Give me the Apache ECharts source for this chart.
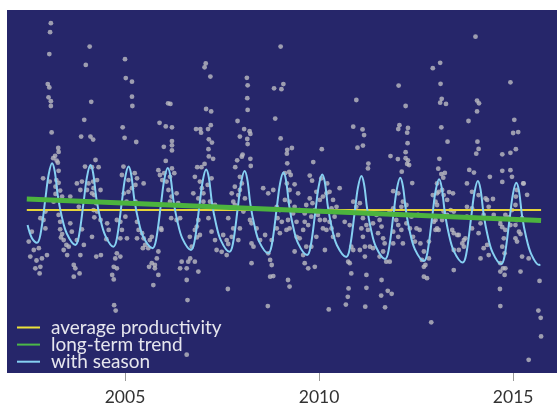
<!DOCTYPE html>
<html><head><meta charset="utf-8">
<script src="https://cdn.jsdelivr.net/npm/echarts@6/dist/echarts.min.js"></script>
<style>html,body{margin:0;padding:0;background:#fff}#c{width:557px;height:403px}</style>
</head><body><div id="c"></div>
<script>
// tick labels
const tickYears = [2005, 2010, 2015];
// average productivity (horizontal)
const avgLine = [[2002.47, 54.3], [2015.72, 54.3]];
// long-term trend
const trendLine = [[2002.47, 58.0], [2015.72, 50.8]];
// with season (troughs, rise, peak, fall)
const seasonLine = [
[2002.49,49.3],[2002.60,45.0],
[2002.73,43.4],[2002.82,46.05],[2002.95,58.2],[2003.03,65.9],[2003.12,69.9],[2003.19,67.2],[2003.27,59.0],[2003.37,52.2],[2003.50,46.5],
[2003.72,42.7],[2003.81,45.4],[2003.94,57.6],[2004.02,65.3],[2004.11,69.3],[2004.18,66.6],[2004.26,58.4],[2004.36,51.6],[2004.49,45.9],
[2004.70,42.1],[2004.79,44.8],[2004.92,57.1],[2005.00,64.8],[2005.09,68.8],[2005.16,66.1],[2005.24,57.9],[2005.34,51.1],[2005.47,45.4],
[2005.71,41.6],[2005.80,44.3],[2005.93,56.6],[2006.01,64.3],[2006.10,68.3],[2006.17,65.6],[2006.25,57.4],[2006.35,50.6],[2006.48,44.8],
[2006.70,41.0],[2006.79,43.7],[2006.92,56.0],[2007.00,63.8],[2007.09,67.8],[2007.16,65.1],[2007.24,56.8],[2007.34,50.0],[2007.47,44.2],
[2007.69,40.4],[2007.78,43.1],[2007.91,55.5],[2007.99,63.3],[2008.08,67.3],[2008.15,64.6],[2008.23,56.3],[2008.33,49.5],[2008.46,43.7],
[2008.69,39.9],[2008.78,42.6],[2008.91,55.0],[2008.99,62.8],[2009.08,66.8],[2009.15,64.1],[2009.23,55.8],[2009.33,48.9],[2009.46,43.2],
[2009.69,39.3],[2009.78,42.0],[2009.91,54.4],[2009.99,62.2],[2010.08,66.2],[2010.15,63.5],[2010.23,55.2],[2010.33,48.3],[2010.46,42.6],
[2010.70,38.7],[2010.79,41.4],[2010.92,53.8],[2011.00,61.7],[2011.09,65.7],[2011.16,62.9],[2011.24,54.6],[2011.34,47.7],[2011.47,41.9],
[2011.70,38.0],[2011.79,40.7],[2011.92,53.2],[2012.00,61.0],[2012.09,65.1],[2012.16,62.3],[2012.24,54.0],[2012.34,47.0],[2012.47,41.2],
[2012.70,37.3],[2012.79,40.0],[2012.92,52.6],[2013.00,60.5],[2013.09,64.6],[2013.16,61.8],[2013.24,53.5],[2013.34,46.5],[2013.47,40.7],
[2013.70,36.8],[2013.79,39.5],[2013.92,52.0],[2014.00,59.9],[2014.09,64.0],[2014.16,61.2],[2014.24,52.9],[2014.34,46.0],[2014.47,40.2],
[2014.69,36.3],[2014.78,39.0],[2014.91,51.5],[2014.99,59.3],[2015.08,63.4],[2015.15,60.7],[2015.23,52.4],[2015.33,45.6],[2015.46,39.8],
[2015.67,36.0],[2015.70,36.2]
];
// observations [year, productivity]
const observations = [
[2003.09,116.6],[2003.07,113.6],[2003.05,106.3],[2003.01,96.3],[2003.05,95.2],[2003.03,91.9],[2003.09,90.6],[2003.09,89.0],[2003.11,80.2],[2003.28,75.0],[2003.29,73.7],[2003.20,72.4],[2003.15,71.6],[2003.24,70.8],[2003.27,70.1],
[2004.09,108.8],[2003.99,102.7],[2004.13,90.4],[2003.95,84.4],[2003.87,78.8],[2004.11,78.8],[2004.18,77.8],[2004.24,71.0],[2003.97,68.8],[2004.15,68.6],[2004.32,68.6],
[2005.00,104.6],[2005.02,98.3],[2005.18,97.1],[2005.18,92.1],[2005.19,89.0],[2004.94,81.9],[2004.99,78.4],[2005.29,77.0],[2004.96,68.8],[2005.25,66.6],
[2006.11,89.9],[2006.17,89.7],[2005.89,83.4],[2006.05,82.2],[2006.21,81.9],[2006.21,77.3],[2006.21,75.9],[2006.00,75.4],[2006.21,74.2],[2006.05,70.7],[2005.86,67.6],[2006.21,68.2],
[2007.08,103.2],[2007.05,101.9],[2007.20,98.8],[2007.09,88.0],[2007.22,87.2],[2006.83,81.3],[2006.94,81.3],[2006.96,80.1],[2007.14,81.3],[2007.21,82.6],[2007.16,77.9],[2007.24,76.8],[2007.15,74.6],[2007.16,72.2],[2007.27,71.4],[2007.05,69.7],[2006.86,68.6],[2006.97,68.6],
[2008.14,98.4],[2008.16,95.9],[2008.15,91.6],[2008.16,87.7],[2007.90,84.0],[2008.07,81.3],[2008.21,80.6],[2008.23,79.7],[2007.96,78.8],[2008.15,78.0],[2008.16,76.3],[2008.03,72.8],[2008.01,72.1],[2008.23,71.4],[2007.89,70.9],[2008.24,69.0],[2007.84,68.6],
[2008.84,94.9],[2008.87,84.8],
[2009.01,108.8],[2009.08,96.3],[2009.03,94.6],[2009.01,78.2],[2009.18,74.4],[2009.30,75.0],[2009.17,73.1],[2009.18,69.9],[2009.23,67.0],[2009.27,66.0],[2009.37,62.9],[2009.46,59.9],
[2010.07,74.6],[2009.85,70.3],[2009.76,65.8],[2009.82,64.1],[2010.21,63.2],[2010.53,61.6],
[2010.96,91.0],[2010.88,82.1],[2011.12,81.2],[2011.16,79.3],[2011.13,75.8],[2010.99,75.1],[2011.27,69.8],[2011.26,68.2],
[2012.05,95.8],[2012.23,89.0],[2012.07,82.6],[2012.04,81.3],[2012.29,81.7],[2012.27,80.1],[2012.28,76.6],[2012.23,73.6],[2011.84,72.3],[2012.03,71.3],[2012.23,71.6],[2012.29,70.9],[2012.27,69.7],[2012.32,69.3],[2012.13,67.1],[2012.40,63.3],[2011.91,60.6],
[2014.03,112.1],[2013.12,103.4],[2012.93,101.6],[2013.13,96.4],[2013.16,91.4],[2013.12,90.1],[2013.27,89.7],[2013.15,81.9],[2013.31,77.1],[2013.10,71.4],[2013.07,68.1],[2013.15,66.3],[2013.24,66.7],[2013.20,65.1],[2013.35,60.3],[2013.45,59.9],[2012.93,59.3],[2013.04,59.9],
[2014.07,90.8],[2014.12,89.9],[2014.07,87.2],[2013.85,84.0],[2014.08,77.1],[2014.11,74.7],[2014.05,73.1],[2013.87,67.7],[2013.99,66.8],[2014.40,65.4],[2014.48,58.0],
[2014.93,96.9],[2015.03,84.4],[2015.00,80.0],[2015.13,80.3],[2015.07,74.6],[2014.93,73.4],[2014.72,72.9],[2014.93,67.6],[2014.72,67.4],[2014.97,65.4],[2014.72,63.7],[2015.26,63.2],[2015.36,59.4],[2015.07,58.8],
[2003.29,67.4],[2002.89,64.9],[2003.06,63.8],[2003.23,64.3],[2003.29,63.4],[2003.21,62.1],[2003.33,60.8],[2003.21,59.7],[2003.38,58.8],[2003.16,57.1],[2003.59,58.8],[2002.95,53.8],[2002.82,51.6],[2002.90,51.0],[2002.95,48.2],[2002.60,47.1],[2002.52,43.8],[2002.65,41.0],[2002.78,41.6],[2002.56,38.8],[2002.72,37.5],[2002.86,38.2],[2002.99,39.3],[2002.69,34.9],[2002.82,35.4],[2002.80,33.2],
[2003.29,52.7],[2003.33,50.4],[2003.33,47.9],[2003.38,46.3],[2003.35,45.2],[2003.42,44.3],[2003.49,42.7],[2003.55,42.1],[2003.51,39.3],[2003.42,41.0],[2003.63,47.1],[2003.59,49.9],[2003.81,55.4],[2003.76,63.2],[2003.89,63.8],[2003.85,61.0],[2004.06,63.2],[2004.02,61.0],[2003.76,44.3],[2003.89,47.9],[2003.94,42.7],[2003.85,39.3],[2003.68,36.0],[2003.72,34.9],[2003.68,32.1],[2003.83,33.2],
[2004.18,63.8],[2004.28,64.3],[2004.19,61.6],[2004.15,59.9],[2004.21,59.3],[2004.37,61.0],[2004.26,56.6],[2004.19,54.3],[2004.28,53.8],[2004.37,51.0],[2004.21,51.9],[2004.15,45.4],[2004.26,38.8],[2004.38,39.3],
[2004.54,49.9],[2004.58,47.7],[2004.52,44.6],[2004.79,51.0],[2004.88,50.4],[2004.92,47.7],[2005.01,52.1],[2004.88,44.9],[2005.05,44.9],[2004.79,39.9],[2004.88,38.8],[2004.75,38.2],[2004.71,35.4],[2004.79,34.9],[2004.67,32.7],[2004.71,31.2],
[2004.92,66.0],[2005.09,64.3],[2005.31,64.9],[2005.27,62.7],[2005.18,61.6],[2005.09,60.4],[2004.97,59.9],[2005.04,57.1],[2005.27,57.1],[2005.48,63.2],[2005.31,50.4],[2005.35,47.7],[2005.44,46.6],[2005.31,44.9],[2005.48,44.9],[2005.52,42.7],[2005.46,41.6],
[2006.01,66.6],[2005.90,66.0],[2006.27,66.6],[2006.16,65.4],[2006.07,63.8],[2005.96,64.3],[2006.12,61.0],[2006.33,59.9],[2006.20,58.8],[2006.16,57.1],[2006.37,56.6],[2006.19,51.6],[2006.33,51.0],[2006.42,51.6],[2005.93,48.2],[2005.94,47.7],[2005.69,45.4],[2005.64,44.3],[2005.60,41.6],[2005.86,40.5],[2005.82,38.2],[2005.69,36.6],[2005.77,36.0],[2005.77,34.9],[2005.62,35.4],[2005.86,32.7],[2005.73,29.3],
[2006.46,37.1],[2006.42,34.9],[2006.59,34.9],[2006.63,37.1],[2006.68,38.2],[2006.80,37.1],[2006.89,33.8],[2006.59,31.0],
[2006.80,65.4],[2006.93,63.8],[2007.23,64.9],[2007.13,62.7],[2006.98,61.6],[2007.02,59.9],[2006.76,59.9],[2006.89,58.2],[2007.02,57.1],[2007.19,57.1],[2007.32,56.0],[2007.15,51.6],[2006.89,51.0],[2006.85,48.8],[2006.80,47.7],[2006.93,46.0],[2006.67,45.4],[2006.85,45.2],[2006.72,42.1],[2007.23,47.1],[2007.32,44.3],[2007.36,41.0],[2007.49,40.4],[2007.62,39.3],
[2007.96,65.4],[2008.01,63.2],[2007.83,62.1],[2007.96,61.0],[2007.75,59.9],[2007.92,59.3],[2007.79,57.1],[2007.83,56.0],[2008.09,58.2],[2007.66,51.6],[2007.79,48.2],[2007.53,46.0],[2007.75,45.4],[2007.62,44.3],[2007.66,43.0],[2007.92,44.3],[2007.96,48.2],[2008.05,53.8],[2008.22,51.0],[2008.26,49.9],[2008.39,48.2],[2008.26,43.2],[2008.31,42.1],[2008.48,44.3],[2008.26,36.6],[2007.65,28.0],
[2008.56,61.6],[2008.69,59.9],[2008.82,61.0],[2008.91,55.4],[2008.99,54.3],[2008.93,51.6],[2009.04,50.4],[2008.99,46.6],[2008.91,48.2],[2008.78,44.3],[2008.61,46.0],[2008.69,39.9],[2008.74,37.7],[2008.78,36.0],[2008.74,32.1],[2008.82,32.3],
[2009.12,66.6],[2009.17,63.2],[2009.24,61.0],[2009.12,57.7],[2009.24,57.1],[2009.37,55.4],[2009.50,54.3],[2009.33,53.2],[2009.20,51.0],[2009.42,50.4],[2009.24,48.2],[2009.16,47.7],[2009.42,45.4],[2009.50,44.9],[2009.63,50.4],[2009.59,47.7],[2009.72,49.3],[2009.63,53.2],[2009.80,52.1],[2009.67,56.0],[2009.89,54.3],[2009.83,56.6],[2009.76,58.2],[2009.93,60.4],[2010.02,57.7],[2010.10,58.8],[2009.97,52.7],[2010.02,51.0],[2010.10,48.2],[2009.93,45.4],
[2009.37,40.5],[2009.59,39.3],[2009.67,42.1],[2009.80,42.1],[2009.63,36.6],[2009.72,34.9],[2009.89,35.4],[2009.20,31.0],[2009.24,28.8],[2010.15,41.0],
[2010.06,64.9],[2010.19,59.9],[2010.27,60.4],[2010.36,57.7],[2010.45,55.4],[2010.32,54.9],[2010.40,52.1],[2010.27,50.4],[2010.15,51.0],[2010.19,47.7],[2010.32,48.2],[2010.36,45.4],[2010.49,46.0],[2010.66,50.4],[2010.79,49.3],[2010.83,42.1],[2010.88,41.0],[2010.75,37.1],[2010.79,36.6],[2011.05,41.0],[2011.18,42.1],[2011.18,38.8],[2010.83,33.2],[2011.22,32.7],[2010.76,28.2],[2011.22,28.4],
[2010.88,57.1],[2011.05,56.6],[2010.96,55.4],[2011.18,53.8],[2011.13,51.6],[2011.22,49.3],[2011.09,48.2],[2011.26,47.7],[2011.13,45.4],[2011.48,52.7],[2011.56,51.0],[2011.39,49.9],[2011.61,48.8],[2011.52,46.6],[2011.65,44.9],[2011.69,43.2],[2011.31,42.1],[2011.39,41.6],[2011.65,40.5],[2011.56,38.8],[2011.73,37.1],[2011.82,37.1],[2011.61,31.0],
[2012.04,59.9],[2012.16,57.1],[2012.25,56.0],[2012.12,55.4],[2011.91,54.9],[2011.82,53.8],[2011.99,51.0],[2012.04,49.3],[2011.91,47.1],[2012.12,47.7],[2012.25,49.9],[2012.38,52.1],[2012.55,52.7],[2012.51,48.2],[2012.59,47.7],[2012.16,43.2],[2012.04,45.4],[2011.91,43.2],[2012.34,48.2],[2012.47,43.8],[2012.42,45.4],
[2013.04,63.2],[2013.08,60.4],[2013.17,61.0],[2013.21,59.3],[2013.00,57.1],[2013.04,56.0],[2013.30,57.7],[2013.39,54.3],[2013.30,52.7],[2013.17,51.0],[2013.00,51.0],[2012.96,50.4],[2013.04,48.2],[2013.00,47.7],[2013.08,47.7],[2013.21,53.8],[2013.47,53.8],
[2012.70,40.5],[2012.61,43.2],[2012.83,43.8],[2012.74,36.0],[2012.70,35.4],[2012.70,32.1],[2012.78,31.6],[2012.83,38.2],[2012.65,37.7],
[2013.81,63.2],[2013.94,60.4],[2014.11,59.3],[2014.29,58.2],[2014.33,57.7],[2013.81,55.4],[2013.94,54.9],[2013.81,52.1],[2014.16,49.9],[2014.37,55.4],[2014.50,52.7],[2014.24,52.7],[2013.43,47.7],[2013.56,46.0],[2013.47,46.6],[2013.60,46.0],[2013.73,44.3],[2013.77,44.9],[2013.69,43.2],[2013.47,41.0],[2013.60,41.0],[2013.73,42.1],[2013.94,48.2],[2014.11,46.6],[2013.47,34.3],[2014.16,38.2],[2014.24,41.6],[2014.33,42.7],[2014.37,39.3],
[2015.27,63.2],[2015.10,61.0],[2015.06,56.0],[2014.97,54.3],[2014.80,52.7],[2014.67,51.0],[2014.67,49.7],[2014.72,48.6],[2014.93,49.3],[2015.06,49.3],[2015.15,47.1],[2015.19,46.3],[2015.06,44.9],[2015.10,43.8],[2014.80,47.7],[2014.76,44.9],[2014.72,42.1],[2014.78,39.9],[2014.67,36.6],[2014.74,34.9],[2014.80,34.9],[2014.67,33.8],[2014.78,32.7],[2015.19,33.8],[2015.23,38.8],[2015.40,38.2],[2014.89,51.9],[2015.10,51.0],[2015.23,51.6],[2014.66,28.0],[2015.68,30.7],
[2004.72,22.6],[2004.76,20.8],[2006.61,24.3],[2008.68,22.3],[2006.59,6.1],
[2010.25,21.2],[2010.69,22.8],[2010.74,25.4],[2011.19,22.1],[2011.60,25.8],[2011.77,27.4],[2011.87,26.4],[2011.70,21.9],[2012.89,16.9],[2014.67,22.3],[2015.65,20.8],[2015.71,18.4],[2015.72,12.2],[2015.40,4.4]
];

const chart = echarts.init(document.getElementById('c'), null, {renderer: 'canvas'});
const FONT = 'Lato';
chart.setOption({
  animation: false,
  backgroundColor: '#ffffff',
  grid: {left: 7, right: 0, top: 10, bottom: 30, show: true, backgroundColor: '#26266a', borderWidth: 0,
         containLabel: false, outerBoundsMode: 'none'},
  xAxis: {
    type: 'value', min: 2001.96, max: 2016.13,
    axisLine: {show: false},
    splitLine: {show: false},
    axisTick: {show: true, customValues: tickYears, length: 8, lineStyle: {color: '#9a9a9a', width: 1}},
    axisLabel: {customValues: tickYears, fontFamily: FONT, fontSize: 17.5, color: '#333333', margin: 15.5, formatter: v => String(v)}
  },
  yAxis: {type: 'value', min: 0, max: 121, show: false, splitLine: {show: false}},
  legend: {
    orient: 'vertical', left: 17, top: 318, padding: 0,
    itemWidth: 23, itemHeight: 10, itemGap: -1.9,
    icon: 'path://M0,0 L23,0 L23,2 L0,2 Z',
    textStyle: {fontFamily: FONT, fontSize: 19, color: '#e6e6ee', padding: [0, 0, 0, 6]},
    data: [
      {name: 'average productivity', itemStyle: {color: '#ece23a'}},
      {name: 'long-term trend', itemStyle: {color: '#4cb848'}},
      {name: 'with season', itemStyle: {color: '#86d0f2'}}
    ]
  },
  series: [
    {type: 'scatter', name: 'observations', data: observations, symbolSize: 4.8,
     itemStyle: {color: '#bcbcc2'}, z: 1},
    {type: 'line', name: 'average productivity', data: avgLine, showSymbol: false, symbol: 'none',
     lineStyle: {color: '#e6d43a', width: 2}, itemStyle: {color: '#ece23a'}, z: 2},
    {type: 'line', name: 'with season', data: seasonLine, showSymbol: false, symbol: 'none', smooth: 0.35,
     lineStyle: {color: '#86d0f2', width: 2}, itemStyle: {color: '#86d0f2'}, z: 3},
    {type: 'line', name: 'long-term trend', data: trendLine, showSymbol: false, symbol: 'none',
     lineStyle: {color: '#4cb33e', width: 5}, itemStyle: {color: '#4cb848'}, z: 4}
  ]
});
</script></body></html>
